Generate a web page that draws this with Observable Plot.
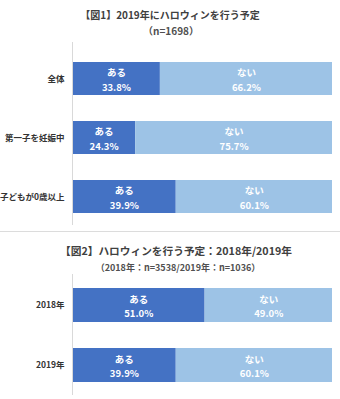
<!DOCTYPE html>
<html>
<head>
<meta charset="utf-8">
<script src="https://cdn.jsdelivr.net/npm/d3@7"></script>
<script src="https://cdn.jsdelivr.net/npm/@observablehq/plot@0.6"></script>
<style>
  html, body { margin: 0; padding: 0; background: #fff; }
  #root { position: relative; width: 340px; height: 399px; overflow: hidden;
    font-family: "Noto Sans CJK JP", "Noto Sans", sans-serif; }
  .t { position: absolute; left: 0; width: 340px; text-align: center; font-weight: bold; white-space: nowrap; }
  .title { color: #404040; }
  .sub { color: #505050; }
  .sep { position: absolute; left: 0; width: 340px; top: 231px; height: 1px; background: #dcdcdc; }
  .chart { position: absolute; left: 0; }
</style>
</head>
<body>
<div id="root">
  <div class="t title" style="top:7px;left:0px;font-size:10px">【図1】2019年にハロウィンを行う予定</div>
  <div class="t sub" style="top:23px;left:1px;font-size:10px">（n=1698）</div>
  <div class="chart" id="c1" style="top:42px"></div>
  <div class="sep"></div>
  <div class="t title" style="top:243px;left:6px;font-size:10.7px">【図2】ハロウィンを行う予定：2018年/2019年</div>
  <div class="t sub" style="top:261px;left:8px;font-size:9px">（2018年：n=3538/2019年：n=1036）</div>
  <div class="chart" id="c2" style="top:274px"></div>
</div>
<script>
const answers = ["ある", "ない"];
const colors = ["#4472C4", "#9DC3E6"];

const cats1 = ["全体", "第一子を妊娠中", "子どもが0歳以上"];
const yes1 = [33.8, 24.3, 39.9];
const no1 = [66.2, 75.7, 60.1];

const cats2 = ["2018年", "2019年"];
const yes2 = [51.0, 39.9];
const no2 = [49.0, 60.1];

function rows(cats, yes, no) {
  const out = [];
  cats.forEach((c, i) => {
    out.push({cat: c, answer: answers[0], value: yes[i]});
    out.push({cat: c, answer: answers[1], value: no[i]});
  });
  return out;
}

function chart(cats, yes, no, height, pOuter, align) {
  const data = rows(cats, yes, no);
  return Plot.plot({
    width: 340,
    height,
    marginLeft: 72,
    marginRight: 8,
    marginTop: 0,
    marginBottom: 0,
    style: {fontFamily: '"Noto Sans CJK JP", sans-serif', background: "transparent"},
    x: {domain: [0, 100], axis: null},
    y: {domain: cats, paddingInner: 26 / 60, paddingOuter: pOuter, align, label: null, tickSize: 0, tickPadding: 8},
    color: {domain: answers, range: colors},
    marks: [
      Plot.axisY({tickSize: 0, tickPadding: 8, fontWeight: "bold", fontSize: 8.5, fill: "#333", label: null}),
      Plot.barX(data, Plot.stackX({x: "value", y: "cat", fill: "answer", order: null})),
      Plot.textX(data, Plot.stackX({
        x: "value", y: "cat", order: null,
        text: d => d.answer + "\n" + d.value.toFixed(1) + "%",
        fill: "white", fontSize: 9.5, fontWeight: "bold", lineHeight: 1.5
      })),
      Plot.ruleX([0], {stroke: "#d9d9d9", strokeWidth: 1})
    ]
  });
}

document.getElementById("c1").appendChild(chart(cats1, yes1, no1, 183, 0.2417, 0.62));
document.getElementById("c2").appendChild(chart(cats2, yes2, no2, 121, 0.225, 0.5));
</script>
</body>
</html>
